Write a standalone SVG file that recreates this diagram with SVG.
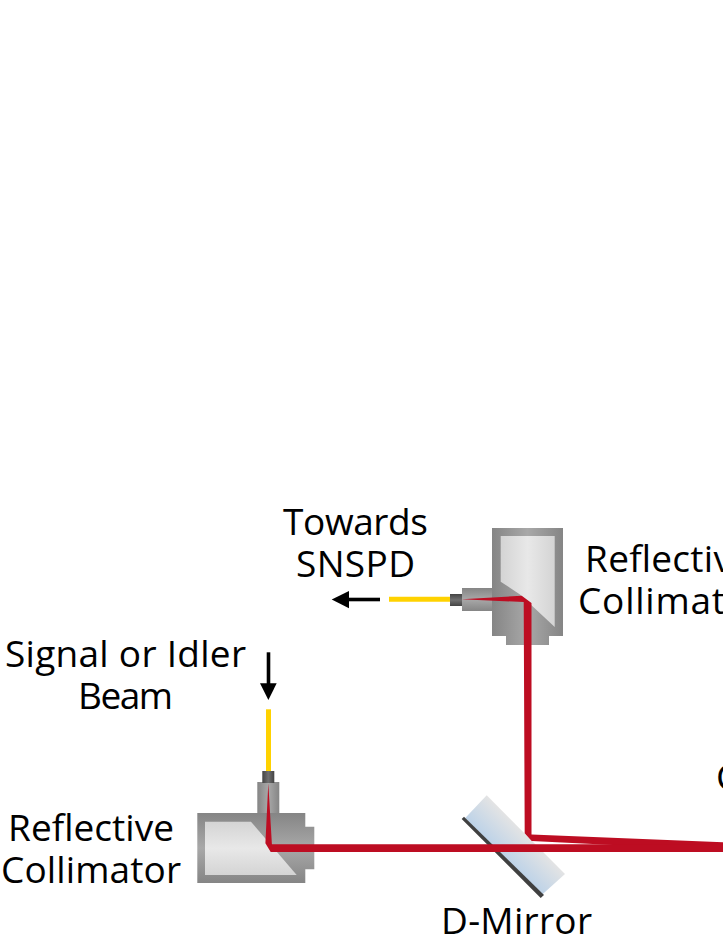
<svg xmlns="http://www.w3.org/2000/svg" width="723" height="935" viewBox="0 0 723 935">
<style>
text{font-family:"Open Sans","Noto Sans","Liberation Sans",sans-serif;font-size:37px;fill:#000;text-anchor:middle}
.st{text-anchor:start}
.red{fill:#bd0d22}
.fib{stroke:#ffd200;stroke-width:5;fill:none}
.blk{stroke:#000;stroke-width:3.6;fill:none}
</style>
<defs>
<linearGradient id="gH" x1="0" x2="1" y1="0" y2="0"><stop offset="0" stop-color="#858585"/><stop offset=".5" stop-color="#a8a8a8"/><stop offset="1" stop-color="#858585"/></linearGradient>
<linearGradient id="gV" x1="0" x2="0" y1="0" y2="1"><stop offset="0" stop-color="#858585"/><stop offset=".5" stop-color="#a8a8a8"/><stop offset="1" stop-color="#858585"/></linearGradient>
<linearGradient id="wH" x1="0" x2="1" y1="0" y2="0"><stop offset="0" stop-color="#d4d4d4"/><stop offset=".5" stop-color="#e8e8e8"/><stop offset="1" stop-color="#d4d4d4"/></linearGradient>
<linearGradient id="wV" x1="0" x2="0" y1="0" y2="1"><stop offset="0" stop-color="#d4d4d4"/><stop offset=".5" stop-color="#e8e8e8"/><stop offset="1" stop-color="#d4d4d4"/></linearGradient>
<linearGradient id="fH" x1="0" x2="1" y1="0" y2="0"><stop offset="0" stop-color="#444"/><stop offset=".5" stop-color="#707070"/><stop offset="1" stop-color="#444"/></linearGradient>
<linearGradient id="fV" x1="0" x2="0" y1="0" y2="1"><stop offset="0" stop-color="#444"/><stop offset=".5" stop-color="#707070"/><stop offset="1" stop-color="#444"/></linearGradient>
<linearGradient id="mir" gradientUnits="userSpaceOnUse" x1="503" y1="857" x2="526" y2="834"><stop offset="0" stop-color="#bcd2e8"/><stop offset="1" stop-color="#e4e4e4"/></linearGradient>
</defs>
<g id="connectors">
<path class="fib" d="M389 599.300H450"/>
<path class="fib" d="M268.500 709.300V771"/>
<path class="blk" d="M380 599.500H348"/>
<path d="M349 591L331.700 599.500L349 608.300Z" fill="#000"/>
<path class="blk" d="M268.500 652.300V684"/>
<path d="M260 683.300L268.400 700L276.700 683.300Z" fill="#000"/>
</g>
<g id="d-mirror">
<path d="M486.700 795.300L565 874L541.700 895L465 818.300Z" fill="url(#mir)"/>
<path d="M461.700 819L464 816.700L544 895L540.700 898Z" fill="#404040"/>
</g>
<g id="collimator-top">
<path d="M492 528H563V636H549V645H506V636H492Z" fill="url(#gH)"/>
<rect x="462" y="588" width="30" height="23" fill="url(#gV)"/>
<rect x="450" y="594" width="12" height="12" fill="url(#fV)"/>
<path d="M500.700 536H554.700V627L520 594.500L500.700 581.700Z" fill="url(#wH)"/>
</g>
<g id="collimator-bottom">
<path d="M197.300 813H305.300V826.700H314.300V869.300H305.300V883H197.300Z" fill="url(#gV)"/>
<rect x="257.300" y="782" width="22" height="31" fill="url(#gH)"/>
<rect x="262.300" y="771" width="12" height="12" fill="url(#fH)"/>
<path d="M205 821.700H251L296.700 875H205Z" fill="url(#wV)"/>
</g>
<g id="beams">
<path class="red" d="M461.700 599.300L521.700 595.800L531.500 603V834.500L723 842.300V852L613 845L531.700 841L524.700 833.300L523.700 602Z"/>
<path class="red" d="M268.300 783.300L271.900 844.200H723V852H270.700L265.400 843.300Z"/>
</g>
<g id="labels">
<text x="355.500" y="535" textLength="145">Towards</text>
<text x="355.500" y="577" textLength="119">SNSPD</text>
<text x="125.500" y="667" textLength="241">Signal or Idler</text>
<text x="125.500" y="709" textLength="95">Beam</text>
<text x="91" y="841" textLength="166">Reflective</text>
<text x="91" y="883" textLength="180">Collimator</text>
<text x="516.500" y="934" textLength="151">D-Mirror</text>
<text class="st" x="585" y="572" textLength="168">Reflective</text>
<text class="st" x="578" y="614" textLength="186">Collimator</text>
<text class="st" x="716" y="790">C</text>
</g>
</svg>
